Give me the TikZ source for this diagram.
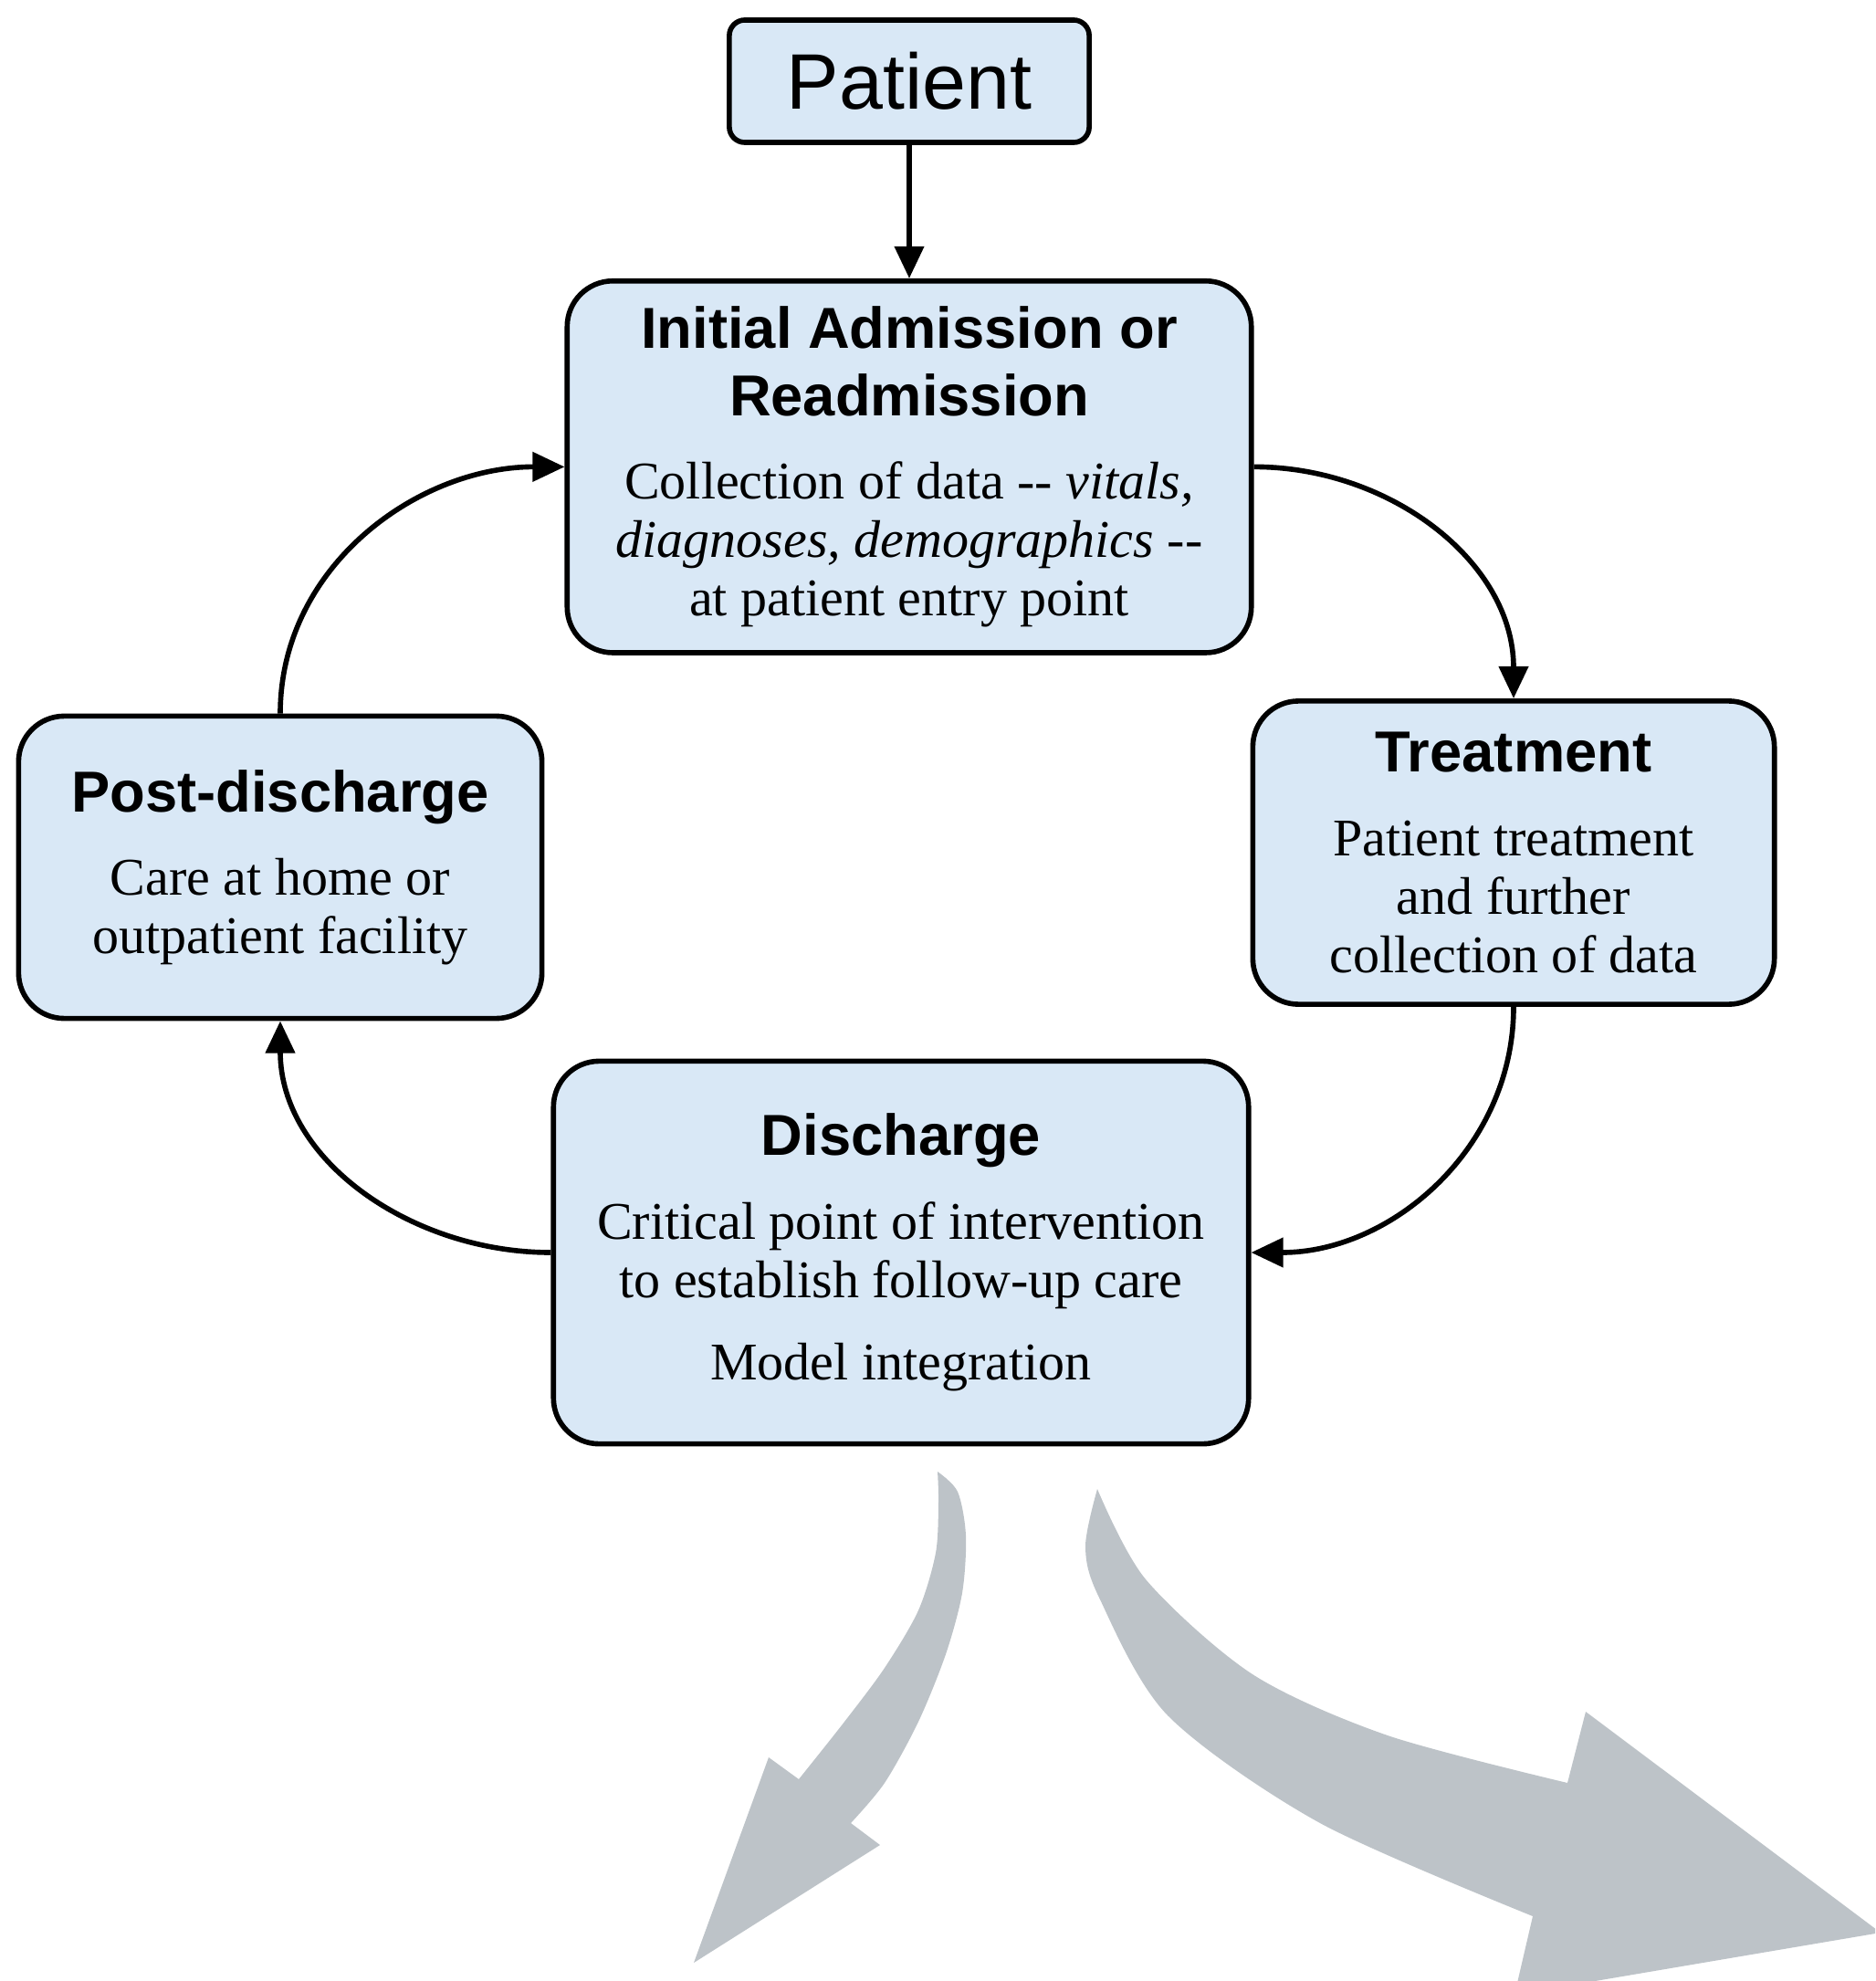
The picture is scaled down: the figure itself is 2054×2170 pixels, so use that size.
\documentclass[tikz,border=0pt]{standalone}
\usepackage{fontspec}
\setmainfont{Liberation Serif}
\setsansfont{Liberation Sans}
\usetikzlibrary{arrows.meta, positioning}
\definecolor{stagefill}{HTML}{D9E8F6}
\definecolor{outflow}{HTML}{BDC3C8}
\newcommand{\stagehead}[1]{{\fontsize{18}{21}\selectfont\sffamily\bfseries #1}}
\tikzset{
  stage/.style   = {draw=black, line width=1.6pt, fill=stagefill, minimum width=#1,
                    rounded corners=0.5cm, inner sep=0pt, align=center,
                    font=\fontsize{16.5}{18.2}\selectfont},
  entry/.style   = {stage=3.94cm, minimum height=1.34cm, rounded corners=0.17cm,
                    font=\fontsize{24.5}{28}\selectfont\sffamily},
  flow/.style    = {-{Triangle[length=10pt,width=9pt]}, draw=black, line width=1.6pt},
  outarrow/.style = {fill=outflow, draw=none},
}

\begin{document}
\begin{tikzpicture}[x=0.01cm, y=-0.01cm]
\clip (0,0) rectangle (2054,2170);

\node[entry] (patient) at (996,89) {Patient};
\node[stage=7.49cm, minimum height=4.07cm, below=1.46cm of patient] (init)
  {\stagehead{Initial Admission or}\\[2.7pt]\stagehead{Readmission}\\[7.7pt]
   Collection of data -{}- \textit{vitals,}\\
   \textit{diagnoses, demographics} -{}-\\
   at patient entry point};
\node[stage=5.71cm, minimum height=3.32cm] (treat) at (1658,934)
  {\stagehead{Treatment}\\[7.7pt]Patient treatment\\and further\\collection of data};
\node[stage=7.61cm, minimum height=4.19cm] (disch) at (987,1372)
  {\stagehead{Discharge}\\[7.7pt]Critical point of intervention\\to establish follow-up care\\[7.5pt]
   Model integration};
\node[stage=5.73cm, minimum height=3.31cm] (post) at (307,950)
  {\stagehead{Post-discharge}\\[7.7pt]Care at home or\\outpatient facility};

\draw[flow] (patient) -- (init);
\draw[flow] (init.east) to[out=0, in=90] (treat.north);
\draw[flow] (treat.south) to[out=-90, in=0] (disch.east);
\draw[flow] (disch.west) to[out=180, in=-90] (post.south);
\draw[flow] (post.north) to[out=90, in=180] (init.west);

% two outgoing arrows below discharge
\fill[outarrow] plot[smooth] coordinates {(1027,1612) (1049,1634) (1058,1682) (1054,1745) (1036,1812) (1006,1886) (969,1953) (932,1997)}
  -- (964,2021) -- (760,2150) -- (842,1925) -- (875,1949)
  -- plot[smooth] coordinates {(875,1949) (925,1886) (969,1827) (1006,1764) (1025,1701) (1028,1645) (1027,1612)} -- cycle;
\fill[outarrow] plot[smooth] coordinates {(1202,1631) (1255,1730) (1372,1834) (1520,1901) (1717,1953)}
  -- (1737,1875) -- (2060,2117) -- (1659,2185) -- (1679,2099)
  -- plot[smooth] coordinates {(1679,2099) (1446,1997) (1279,1879) (1204,1750) (1189,1694) (1202,1631)} -- cycle;

\end{tikzpicture}
\end{document}
